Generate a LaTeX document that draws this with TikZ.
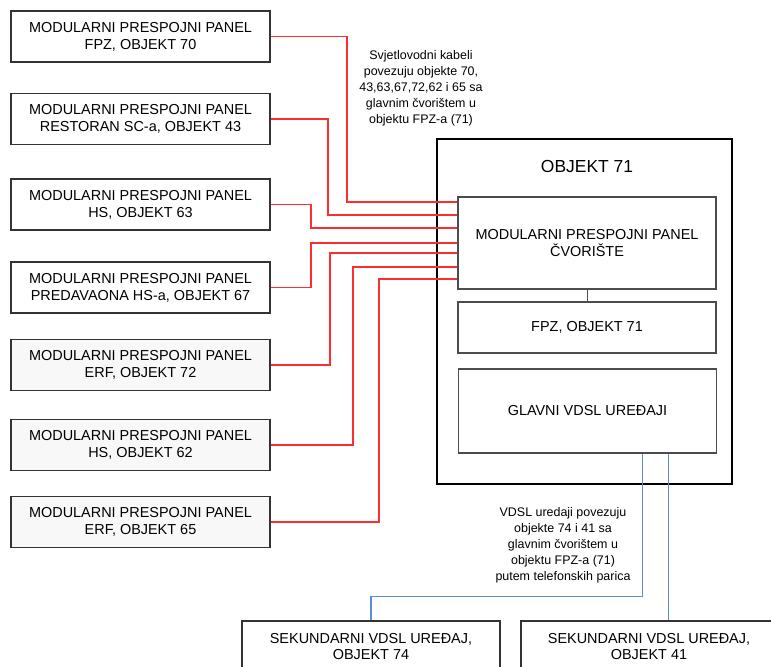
\documentclass[tikz,border=0pt]{standalone}
\usepackage{fontspec}
\setmainfont{Liberation Sans}
\definecolor{fibrered}{RGB}{255,45,45}
\definecolor{vdslblue}{RGB}{90,140,215}
\definecolor{panelgray}{RGB}{248,248,248}
\begin{document}
\begin{tikzpicture}[x=1bp,y=-1bp,
		panel/.style={draw=black!80, line width=1.3bp, fill=white, minimum width=259bp, minimum height=51bp, inner sep=0pt, align=center, font=\fontsize{14.5}{17}\selectfont},
		greypanel/.style={panel, fill=panelgray},
		innerbox/.style={panel, draw=black!70, minimum width=258bp},
		note/.style={align=center, inner sep=0pt, font=\fontsize{12.5}{16}\selectfont},
		fibre/.style={draw=fibrered, line width=1.3bp},
		vdsl/.style={draw=vdslblue, line width=1.3bp}]
				\clip (0,0) rectangle (771,667);
				\useasboundingbox (0,0) rectangle (771,667);
				
				% patch panels of the other buildings
				\node[panel] (p70) at (140.5,36.5) {MODULARNI PRESPOJNI PANEL\\FPZ, OBJEKT 70};
				\node[panel] (p43) at (140.5,119) {MODULARNI PRESPOJNI PANEL\\RESTORAN SC-a, OBJEKT 43};
				\node[panel] (p63) at (140.5,204.5) {MODULARNI PRESPOJNI PANEL\\HS, OBJEKT 63};
				\node[panel] (p67) at (140.5,287.5) {MODULARNI PRESPOJNI PANEL\\PREDAVAONA HS-a, OBJEKT 67};
				\node[greypanel] (p72) at (140.5,365) {MODULARNI PRESPOJNI PANEL\\ERF, OBJEKT 72};
				\node[greypanel] (p62) at (140.5,445) {MODULARNI PRESPOJNI PANEL\\HS, OBJEKT 62};
				\node[greypanel] (p65) at (140.5,522) {MODULARNI PRESPOJNI PANEL\\ERF, OBJEKT 65};
				
				% main node, building 71
				\node[draw, line width=1.2bp, minimum width=295bp, minimum height=345bp] (obj71) at (584.5,311.5) {};
				\node[font=\fontsize{17.5}{20}\selectfont] (t71) at ([xshift=2.5bp,yshift=-28bp]obj71.north) {OBJEKT 71};
				
				\foreach \src/\xx/\yy in {p70/347/202, p43/328/215, p63/311/228, p67/311/243, p72/330/253, p62/353/267, p65/379/279}
					\draw[fibre] (\src.east) -| (\xx,\yy) -- (458,\yy);
				
				\node[innerbox, minimum height=92bp] (cvor) at (587,243) {MODULARNI PRESPOJNI PANEL\\ČVORIŠTE};
				\node[innerbox] (fpz71) at (587,327.5) {FPZ, OBJEKT 71};
				\node[innerbox, minimum height=84bp] (glavni) at (587.5,411) {GLAVNI VDSL UREĐAJI};
				\draw[draw=black!70, line width=1bp] (cvor) -- (fpz71);
				
				\node[note] (nfibre) at (421,88.5) {Svjetlovodni kabeli\\povezuju objekte 70,\\43,63,67,72,62 i 65 sa\\glavnim čvorištem u\\objektu FPZ-a (71)};
				\node[note] (nvdsl) at (563,545) {VDSL uredaji povezuju\\objekte 74 i 41 sa\\glavnim čvorištem u\\objektu FPZ-a (71)\\putem telefonskih parica};
				
				% secondary VDSL devices
				\node[panel, minimum width=258bp] (s74) at (371,646.5) {SEKUNDARNI VDSL UREĐAJ,\\OBJEKT 74};
				\node[panel, minimum width=256bp] (s41) at (649,646.5) {SEKUNDARNI VDSL UREĐAJ,\\OBJEKT 41};
				
				\coordinate (g74) at ([xshift=55bp]glavni.south);
				\coordinate (g41) at ([xshift=81bp]glavni.south);
				\draw[vdsl] (g74) -- ++(0,143) -| (s74.north);
				\draw[vdsl] (g41) -- (g41 |- s41.north);
			\end{tikzpicture}
\end{document}
